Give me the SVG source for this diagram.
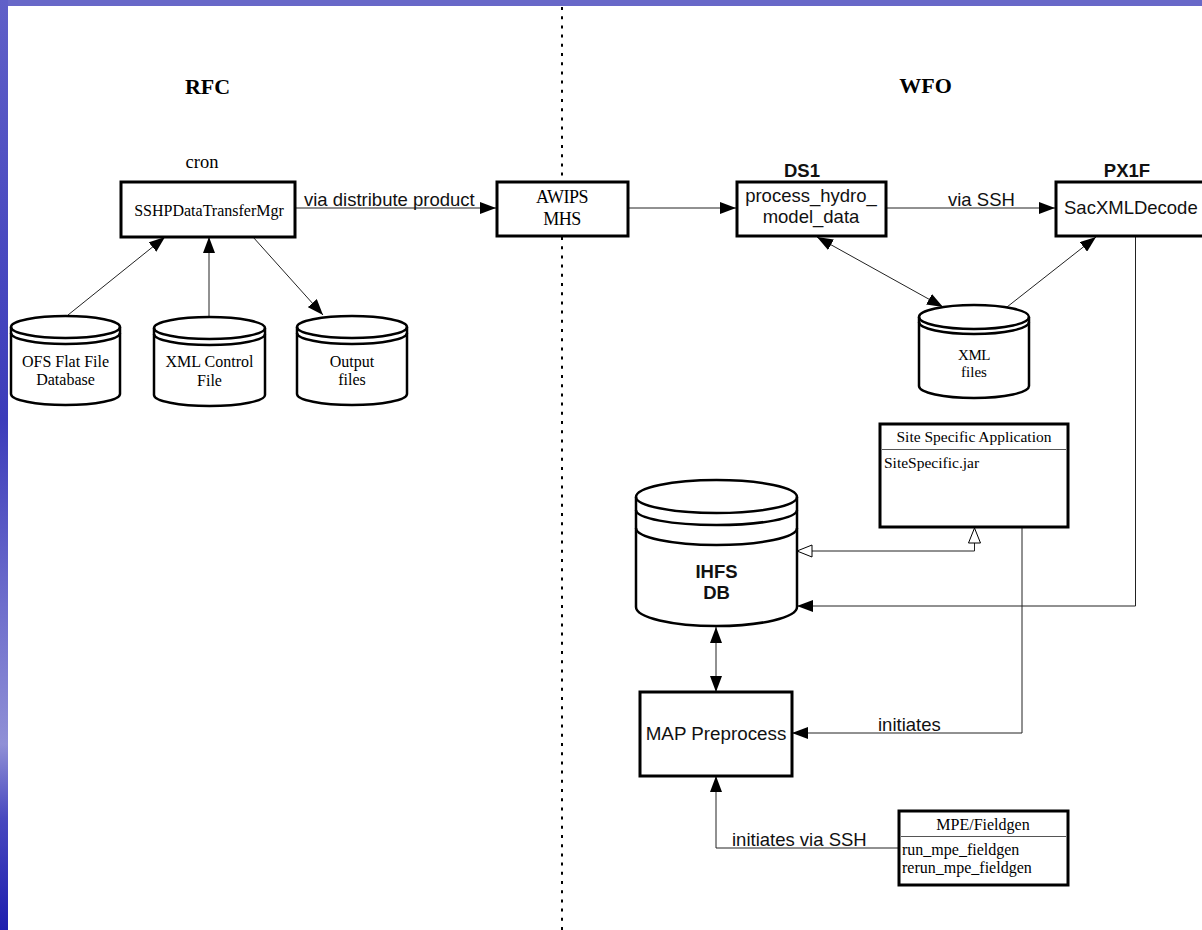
<svg xmlns="http://www.w3.org/2000/svg" width="1202" height="930" viewBox="0 0 1202 930">
<style>
.serif{font-family:"Liberation Serif","Times New Roman",serif;fill:#000}
.sans{font-family:"Liberation Sans",Arial,sans-serif;fill:#111}
.box{fill:#fff;stroke:#000;stroke-width:3}
.cyl{fill:#fff;stroke:#000;stroke-width:2.5}
.cylline{fill:none;stroke:#000;stroke-width:2.5}
.conn{fill:none;stroke:#222;stroke-width:1}
.sep{stroke:#555;stroke-width:1}
</style>
<defs>
<linearGradient id="strip" x1="0" y1="0" x2="0" y2="1">
<stop offset="0" stop-color="#6060c8"/>
<stop offset="0.25" stop-color="#4a4ac0"/>
<stop offset="0.45" stop-color="#3c3cba"/>
<stop offset="0.65" stop-color="#6e6ecc"/>
<stop offset="0.8" stop-color="#9090d6"/>
<stop offset="0.88" stop-color="#4848bf"/>
<stop offset="1" stop-color="#1e1eae"/>
</linearGradient>
<marker id="arr" viewBox="0 0 16 12" refX="16" refY="6" markerWidth="16" markerHeight="12" markerUnits="userSpaceOnUse" orient="auto-start-reverse">
<path d="M0,0 L16,6 L0,12 z" fill="#000"/>
</marker>
<marker id="hollow" viewBox="-1 -1 17 14" refX="15" refY="6" markerWidth="17" markerHeight="14" markerUnits="userSpaceOnUse" orient="auto-start-reverse">
<path d="M0,0 L15,6 L0,12 z" fill="#fff" stroke="#000" stroke-width="1"/>
</marker>
</defs>
<rect x="0" y="0" width="1202" height="930" fill="#fff"/>
<rect x="0" y="0" width="1202" height="6" fill="#6868c8"/>
<rect x="0" y="0" width="8" height="930" fill="url(#strip)"/>
<line x1="562" y1="7" x2="562" y2="930" stroke="#000" stroke-width="2" stroke-dasharray="3 6.2"/>

<g id="titles">
<text class="serif" x="207.5" y="94" font-size="22" font-weight="bold" text-anchor="middle">RFC</text>
<text class="serif" x="925.5" y="93" font-size="22" font-weight="bold" text-anchor="middle">WFO</text>
</g>

<g id="connectors">
<path class="conn" d="M296,208 H496" marker-end="url(#arr)"/>
<path class="conn" d="M629,208 H736" marker-end="url(#arr)"/>
<path class="conn" d="M887,208 H1055" marker-end="url(#arr)"/>
<path class="conn" d="M68,315 L165,237" marker-end="url(#arr)"/>
<path class="conn" d="M209,316 V237" marker-end="url(#arr)"/>
<path class="conn" d="M253,237 L323,315" marker-end="url(#arr)"/>
<path class="conn" d="M817,237 L943,307" marker-start="url(#arr)" marker-end="url(#arr)"/>
<path class="conn" d="M1007,307 L1096,237" marker-end="url(#arr)"/>
<path class="conn" d="M1135.5,237 V606 H797" marker-end="url(#arr)"/>
<path class="conn" d="M974.5,528 V551 H797" marker-start="url(#hollow)" marker-end="url(#hollow)"/>
<path class="conn" d="M1022,528 V733 H792" marker-end="url(#arr)"/>
<path class="conn" d="M716,627 V692" marker-start="url(#arr)" marker-end="url(#arr)"/>
<path class="conn" d="M898,848 H716 V776" marker-end="url(#arr)"/>
<text class="sans" x="304" y="206" font-size="18.5">via distribute product</text>
<text class="sans" x="948" y="206" font-size="18.5">via SSH</text>
<text class="sans" x="878" y="731" font-size="18.5">initiates</text>
<text class="sans" x="732" y="846" font-size="18.5">initiates via SSH</text>
</g>

<g id="sshp">
<text class="serif" x="202" y="168" font-size="18.5" text-anchor="middle">cron</text>
<rect class="box" x="121" y="182" width="174" height="55"/>
<text class="serif" x="209" y="216" font-size="16" text-anchor="middle">SSHPDataTransferMgr</text>
</g>

<g id="awips">
<rect class="box" x="497" y="182" width="131" height="54"/>
<text class="serif" x="562" y="203" font-size="18" text-anchor="middle" letter-spacing="-0.5">AWIPS</text>
<text class="serif" x="562" y="225" font-size="18" text-anchor="middle" letter-spacing="-0.5">MHS</text>
</g>

<g id="process">
<text class="sans" x="802" y="177" font-size="18.5" font-weight="bold" text-anchor="middle">DS1</text>
<rect class="box" x="737" y="182" width="149" height="54"/>
<text class="sans" x="811" y="202" font-size="18.5" text-anchor="middle">process_hydro_</text>
<text class="sans" x="811" y="223" font-size="18.5" text-anchor="middle">model_data</text>
</g>

<g id="px1f">
<text class="sans" x="1127" y="177" font-size="18.5" font-weight="bold" text-anchor="middle">PX1F</text>
<rect class="box" x="1056" y="182" width="160" height="54"/>
<text class="sans" x="1064" y="214" font-size="18.5">SacXMLDecode</text>
</g>

<g id="ofs">
<path class="cyl" d="M11,327 A54.5,11 0 0 1 120,327 V394 A54.5,11 0 0 1 11,394 Z"/>
<path class="cylline" d="M11,327 A54.5,11 0 0 0 120,327 M11,333 A54.5,11 0 0 0 120,333"/>
<text class="serif" x="65.5" y="367" font-size="16" text-anchor="middle">OFS Flat File</text>
<text class="serif" x="65.5" y="385" font-size="16" text-anchor="middle">Database</text>
</g>

<g id="xmlcontrol">
<path class="cyl" d="M154,328 A55.5,11 0 0 1 265,328 V395 A55.5,11 0 0 1 154,395 Z"/>
<path class="cylline" d="M154,328 A55.5,11 0 0 0 265,328 M154,334 A55.5,11 0 0 0 265,334"/>
<text class="serif" x="209.5" y="367" font-size="16" text-anchor="middle">XML Control</text>
<text class="serif" x="209.5" y="386" font-size="16" text-anchor="middle">File</text>
</g>

<g id="output">
<path class="cyl" d="M297,327 A55,11 0 0 1 407,327 V394 A55,11 0 0 1 297,394 Z"/>
<path class="cylline" d="M297,327 A55,11 0 0 0 407,327 M297,333 A55,11 0 0 0 407,333"/>
<text class="serif" x="352" y="367" font-size="16" text-anchor="middle">Output</text>
<text class="serif" x="352" y="385" font-size="16" text-anchor="middle">files</text>
</g>

<g id="xmlfiles">
<path class="cyl" d="M919,317 A55,12 0 0 1 1029,317 V386 A55,12 0 0 1 919,386 Z"/>
<path class="cylline" d="M919,317 A55,12 0 0 0 1029,317 M919,322 A55,12 0 0 0 1029,322"/>
<text class="serif" x="974" y="360" font-size="15" text-anchor="middle" letter-spacing="-0.5">XML</text>
<text class="serif" x="974" y="377" font-size="15" text-anchor="middle">files</text>
</g>

<g id="sitespecific">
<rect class="box" x="880" y="424" width="188" height="103"/>
<line class="sep" x1="882" y1="449.5" x2="1066" y2="449.5"/>
<text class="serif" x="974" y="442" font-size="15.5" text-anchor="middle">Site Specific Application</text>
<text class="serif" x="884" y="468" font-size="15.5">SiteSpecific.jar</text>
</g>

<g id="ihfs">
<path class="cyl" d="M636,497 A80.5,17 0 0 1 797,497 V607 A80.5,19 0 0 1 636,607 Z"/>
<path class="cylline" d="M636,497 A80.5,16 0 0 0 797,497 M636,510 A80.5,15 0 0 0 797,510 M636,528 A80.5,17 0 0 0 797,528"/>
<text class="sans" x="716.5" y="578" font-size="18.5" font-weight="bold" text-anchor="middle">IHFS</text>
<text class="sans" x="716.5" y="599" font-size="18.5" font-weight="bold" text-anchor="middle">DB</text>
</g>

<g id="map">
<rect class="box" x="640" y="692" width="152" height="84"/>
<text class="sans" x="716" y="740" font-size="18.8" text-anchor="middle">MAP Preprocess</text>
</g>

<g id="mpe">
<rect class="box" x="899" y="811" width="169" height="74"/>
<line class="sep" x1="901" y1="836.5" x2="1066" y2="836.5"/>
<text class="serif" x="983" y="830" font-size="16" text-anchor="middle">MPE/Fieldgen</text>
<text class="serif" x="902" y="855" font-size="16">run_mpe_fieldgen</text>
<text class="serif" x="902" y="873" font-size="16">rerun_mpe_fieldgen</text>
</g>
</svg>
